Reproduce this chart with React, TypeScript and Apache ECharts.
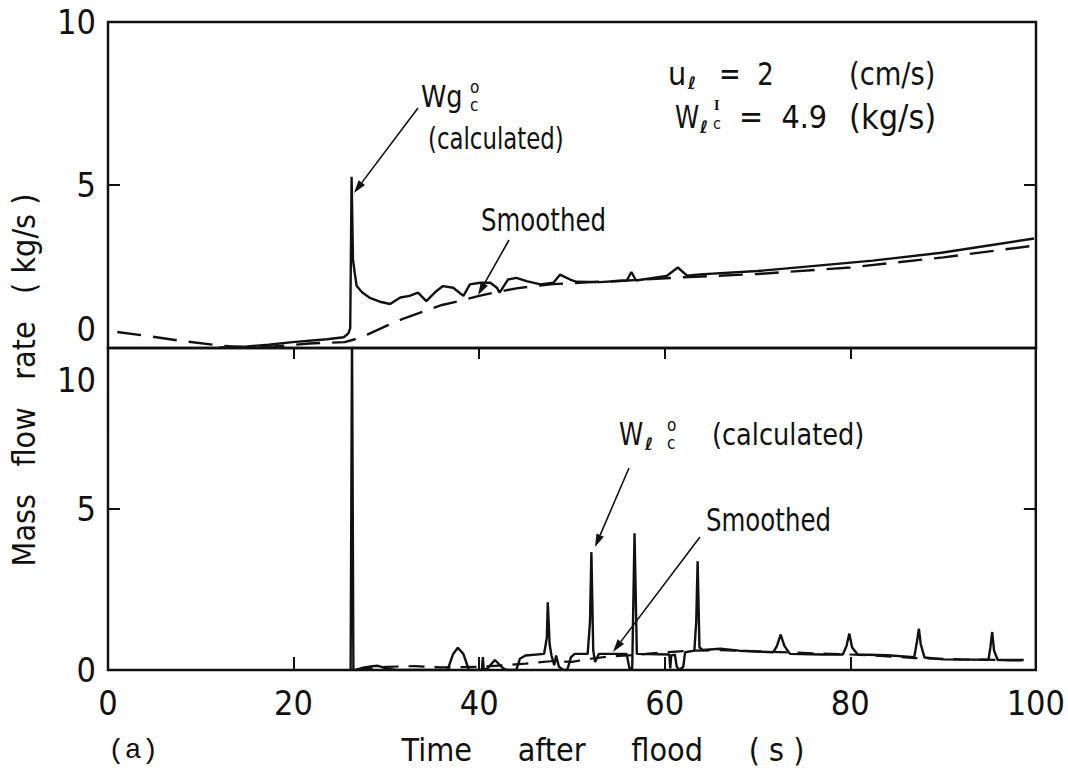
import React, { useEffect, useRef } from "react";
import * as echarts from "echarts";

// ---------- data ----------
const xTicks = [0, 20, 40, 60, 80, 100];
const topYTicks = [0, 5, 10];
const bottomYTicks = [0, 5, 10];

// top panel: gas mass flow rate (kg/s)
const gasCalculated: [number, number][] = [
  [12.0, 0.02], [15.0, 0.05], [17.3, 0.1], [19.9, 0.18], [23.6, 0.27], [25.4, 0.33], [25.9, 0.45], [26.1, 0.6],
  [26.25, 5.25], [26.4, 2.7], [26.6, 2.28], [26.8, 1.9], [27.4, 1.7], [28.2, 1.54], [29.3, 1.42], [30.4, 1.35],
  [31.5, 1.55], [32.5, 1.6], [33.4, 1.7], [34.3, 1.44], [35.4, 1.75], [36.1, 1.9], [37.2, 1.85], [38.3, 1.6],
  [39.0, 1.95], [40.1, 2.0], [41.2, 2.0], [41.9, 1.85], [42.2, 1.7], [43.1, 2.1], [44.0, 2.15], [45.1, 2.05],
  [46.6, 1.95], [48.0, 2.0], [48.7, 2.25], [49.8, 2.1], [50.5, 2.03], [53.0, 2.02], [55.9, 2.07], [56.4, 2.33],
  [56.9, 2.07], [60.2, 2.21], [61.4, 2.47], [62.4, 2.22], [63.8, 2.26], [70.0, 2.36], [75.0, 2.49], [82.4, 2.68],
  [89.8, 2.92], [99.8, 3.36],
];
const gasSmoothed: [number, number][] = [
  [1, 0.49], [4.2, 0.37], [8.1, 0.21], [12.5, 0.06], [15, 0.02], [17.3, 0.03], [21.7, 0.14], [25.5, 0.18],
  [27, 0.3], [28, 0.42], [30, 0.68], [32, 0.92], [34, 1.12], [36, 1.32], [38, 1.45], [40, 1.6], [42, 1.72],
  [44, 1.83], [46, 1.9], [48, 1.96], [52, 2.02], [56, 2.07], [62, 2.17], [70, 2.27], [80, 2.47], [90, 2.78],
  [99.5, 3.13],
];

// bottom panel: liquid mass flow rate (kg/s)
const liquidCalculated: [number, number][] = [
  [26.15, 0], [26.3, 10.5], [26.45, 0], [26.7, 0], [27.5, 0.07], [28.5, 0.12], [29.1, 0.13], [30, 0.05], [31, 0],
  [36.6, 0], [37.2, 0.5], [37.7, 0.69], [38.3, 0.5], [38.9, 0], [40.3, 0], [40.4, 0.4], [40.5, 0], [40.9, 0.05],
  [41.7, 0.31], [42.6, 0.05], [43, 0], [44.0, 0], [44.4, 0.35], [45, 0.45], [47.0, 0.5], [47.3, 1.0], [47.4, 2.1],
  [47.6, 0.8], [47.8, 0.45], [48.1, 0.15], [48.3, 0.45], [48.6, 0.1], [49.1, 0], [49.5, 0], [49.9, 0.4],
  [50.3, 0.5], [51.7, 0.5], [51.95, 1.5], [52.1, 3.66], [52.3, 0.6], [52.5, 0.25], [52.9, 0.5], [55.9, 0.5],
  [56.2, 0.05], [56.5, 0.05], [56.75, 4.25], [57.0, 0.5], [60.5, 0.48], [60.6, 0.05], [60.7, 0.45], [61.1, 0.48],
  [61.3, 0.1], [61.6, 0], [62.0, 0.1], [62.2, 0.55], [63.2, 0.6], [63.4, 1.5], [63.55, 3.38], [63.75, 0.7],
  [64.1, 0.62], [66, 0.66], [68, 0.6], [71.7, 0.55], [72.1, 0.75], [72.5, 1.1], [72.9, 0.75], [73.5, 0.5],
  [77, 0.48], [79.2, 0.48], [79.6, 0.75], [79.9, 1.13], [80.2, 0.7], [80.8, 0.48], [84, 0.46], [86.9, 0.4],
  [87.2, 0.9], [87.4, 1.28], [87.6, 0.8], [88, 0.39], [90, 0.33], [94.9, 0.32], [95.1, 0.7], [95.3, 1.18],
  [95.5, 0.6], [95.9, 0.31], [98.7, 0.31],
];
const liquidSmoothed: [number, number][] = [
  [26.8, 0.02], [30, 0.1], [33, 0.12], [36, 0.08], [40, 0.1], [43, 0.15], [45, 0.2], [48, 0.28], [50, 0.25],
  [52, 0.35], [54, 0.42], [56, 0.45], [58, 0.5], [60, 0.55], [63, 0.6], [66, 0.62], [70, 0.58], [76, 0.52],
  [82, 0.46], [87, 0.37], [92, 0.33], [98.5, 0.3],
];

// ---------- styling ----------
const FONT = '"Liberation Sans Narrow", "DejaVu Sans Condensed", "Liberation Sans", sans-serif';
const INK = "#111";

const GRID_LEFT = 108;
const GRID_RIGHT = 32;
const TOP_Y = 22;
const MID_Y = 348;
const BOT_Y = 670;

function txt(text: string, x: number, y: number, size = 32, sx = 1, align = "left", extra: any = {}) {
  return {
    type: "text",
    x,
    y,
    scaleX: sx,
    style: {
      text,
      fontSize: size,
      fontFamily: FONT,
      fill: INK,
      textAlign: align,
      textVerticalAlign: "middle",
      ...extra,
    },
  };
}

function ell(x: number, y: number, size = 17) {
  return {
    type: "text",
    x,
    y,
    style: {
      text: "\u2113",
      fontSize: size,
      fontFamily: '"DejaVu Sans", sans-serif',
      fontStyle: "italic",
      fontWeight: "bold",
      fill: INK,
      textAlign: "left",
      textVerticalAlign: "middle",
    },
  };
}

function arrow(x1: number, y1: number, x2: number, y2: number, head = 13, w = 4) {
  const dx = x2 - x1;
  const dy = y2 - y1;
  const L = Math.hypot(dx, dy);
  const ux = dx / L;
  const uy = dy / L;
  const bx = x2 - ux * head;
  const by = y2 - uy * head;
  const px = -uy;
  const py = ux;
  return [
    { type: "line", shape: { x1, y1, x2: bx, y2: by }, style: { stroke: INK, lineWidth: 1.6 } },
    {
      type: "polygon",
      shape: { points: [[x2, y2], [bx + px * w, by + py * w], [bx - px * w, by - py * w]] },
      style: { fill: INK },
    },
  ];
}

export default function App() {
  const ref = useRef<HTMLDivElement>(null);

  useEffect(() => {
    if (!ref.current) return;
    const chart = echarts.init(ref.current, null, { renderer: "svg" });

    const tickLabel = { fontSize: 34, fontFamily: FONT, color: INK };
    const yBase = (gridIndex: number, position: string, labels: boolean, hidden: number[]) => ({
      type: "value",
      gridIndex,
      position,
      min: 0,
      max: 10,
      interval: 5,
      axisLine: { show: false },
      axisTick: { show: true, inside: true, length: 12, lineStyle: { color: INK, width: 2 } },
      splitLine: { show: false },
      axisLabel: labels
        ? {
            show: true,
            margin: 12,
            ...tickLabel,
            formatter: (v: number) => (hidden.includes(v) ? "" : String(v)),
          }
        : { show: false },
    });

    const option: any = {
      animation: false,
      backgroundColor: "#fff",
      grid: [
        {
          left: GRID_LEFT,
          right: GRID_RIGHT,
          top: TOP_Y,
          height: MID_Y - TOP_Y,
          show: true,
          borderColor: INK,
          borderWidth: 2.5,
          backgroundColor: "transparent",
        },
        {
          left: GRID_LEFT,
          right: GRID_RIGHT,
          top: MID_Y,
          height: BOT_Y - MID_Y,
          show: true,
          borderColor: INK,
          borderWidth: 2.5,
          backgroundColor: "transparent",
        },
      ],
      xAxis: [
        {
          type: "value",
          gridIndex: 0,
          position: "top",
          min: xTicks[0],
          max: xTicks[xTicks.length - 1],
          interval: 20,
          axisLine: { show: false },
          axisTick: { show: true, inside: true, length: 11, lineStyle: { color: INK, width: 2 } },
          axisLabel: { show: false },
          splitLine: { show: false },
        },
        {
          type: "value",
          gridIndex: 1,
          position: "bottom",
          min: xTicks[0],
          max: xTicks[xTicks.length - 1],
          interval: 20,
          axisLine: { show: false },
          axisTick: { show: true, inside: true, length: 13, lineStyle: { color: INK, width: 2 } },
          axisLabel: { show: true, margin: 16, ...tickLabel },
          splitLine: { show: false },
        },
      ],
      yAxis: [
        yBase(0, "left", true, [topYTicks[0]]),
        yBase(0, "right", false, []),
        yBase(1, "left", true, [bottomYTicks[2]]),
        yBase(1, "right", false, []),
      ],
      series: [
        {
          type: "line",
          name: "Wg calculated",
          xAxisIndex: 0,
          yAxisIndex: 0,
          data: gasCalculated,
          showSymbol: false,
          lineStyle: { color: INK, width: 2.4 },
          clip: true,
        },
        {
          type: "line",
          name: "Wg smoothed",
          xAxisIndex: 0,
          yAxisIndex: 0,
          data: gasSmoothed,
          showSymbol: false,
          lineStyle: { color: INK, width: 2.4, type: [24, 12] },
          clip: true,
        },
        {
          type: "line",
          name: "Wl calculated",
          xAxisIndex: 1,
          yAxisIndex: 2,
          data: liquidCalculated,
          showSymbol: false,
          lineStyle: { color: INK, width: 2.4 },
          clip: true,
        },
        {
          type: "line",
          name: "Wl smoothed",
          xAxisIndex: 1,
          yAxisIndex: 2,
          data: liquidSmoothed,
          showSymbol: false,
          lineStyle: { color: INK, width: 2.2, type: [16, 10] },
          clip: true,
        },
      ],
      graphic: [
        // offset y tick labels at the shared border
        txt(String(topYTicks[0]), 96, 329, 34, 1, "right"),
        txt(String(bottomYTicks[2]), 96, 380, 34, 1, "right"),
        // axis titles
        {
          type: "text",
          x: 24,
          y: 380,
          rotation: Math.PI / 2,
          style: {
            text: "Mass   flow   rate   ( kg/s )",
            fontSize: 32,
            fontFamily: FONT,
            fill: INK,
            textAlign: "center",
            textVerticalAlign: "middle",
          },
        },
        txt("Time     after     flood     ( s )", 603, 750, 32, 1, "center"),
        txt("(a)", 108, 750, 28, 1, "left", { fontFamily: '"Liberation Mono", "DejaVu Sans Mono", monospace' }),
        // top annotations
        txt("Wg", 421, 96, 31, 0.92),
        txt("o", 470, 87, 17),
        txt("c", 470, 105, 17),
        txt("(calculated)", 428, 139, 31, 0.82),
        ...arrow(418, 108, 354, 193),
        txt("Smoothed", 481, 220, 32, 0.85),
        ...arrow(509, 240, 478, 295),
        txt("u", 668, 74, 32),
        ell(688, 83),
        txt("=  2", 719, 74, 32, 0.9),
        txt("(cm/s)", 849, 74, 32, 0.95),
        txt("W", 675, 117, 32, 0.85),
        ell(700, 127),
        txt("I", 714, 105, 14, 1, "left", { fontFamily: '"Liberation Serif", "DejaVu Serif", serif', fontWeight: "bold" }),
        txt("c", 713, 123, 16),
        txt("=  4.9", 739, 117, 32),
        txt("(kg/s)", 849, 117, 34),
        // bottom annotations
        txt("W", 619, 434, 32, 0.85),
        ell(645, 444),
        txt("o", 667, 425, 17),
        txt("c", 667, 443, 17),
        txt("(calculated)", 712, 434, 31, 0.92),
        ...arrow(629, 468, 595, 547),
        txt("Smoothed", 706, 520, 32, 0.85),
        ...arrow(700, 537, 613, 652),
      ],
    };

    chart.setOption(option);
    return () => chart.dispose();
  }, []);

  return (
    <div
      ref={ref}
      style={{ position: "absolute", left: 0, top: 0, width: 1068, height: 774, background: "#fff" }}
    />
  );
}
